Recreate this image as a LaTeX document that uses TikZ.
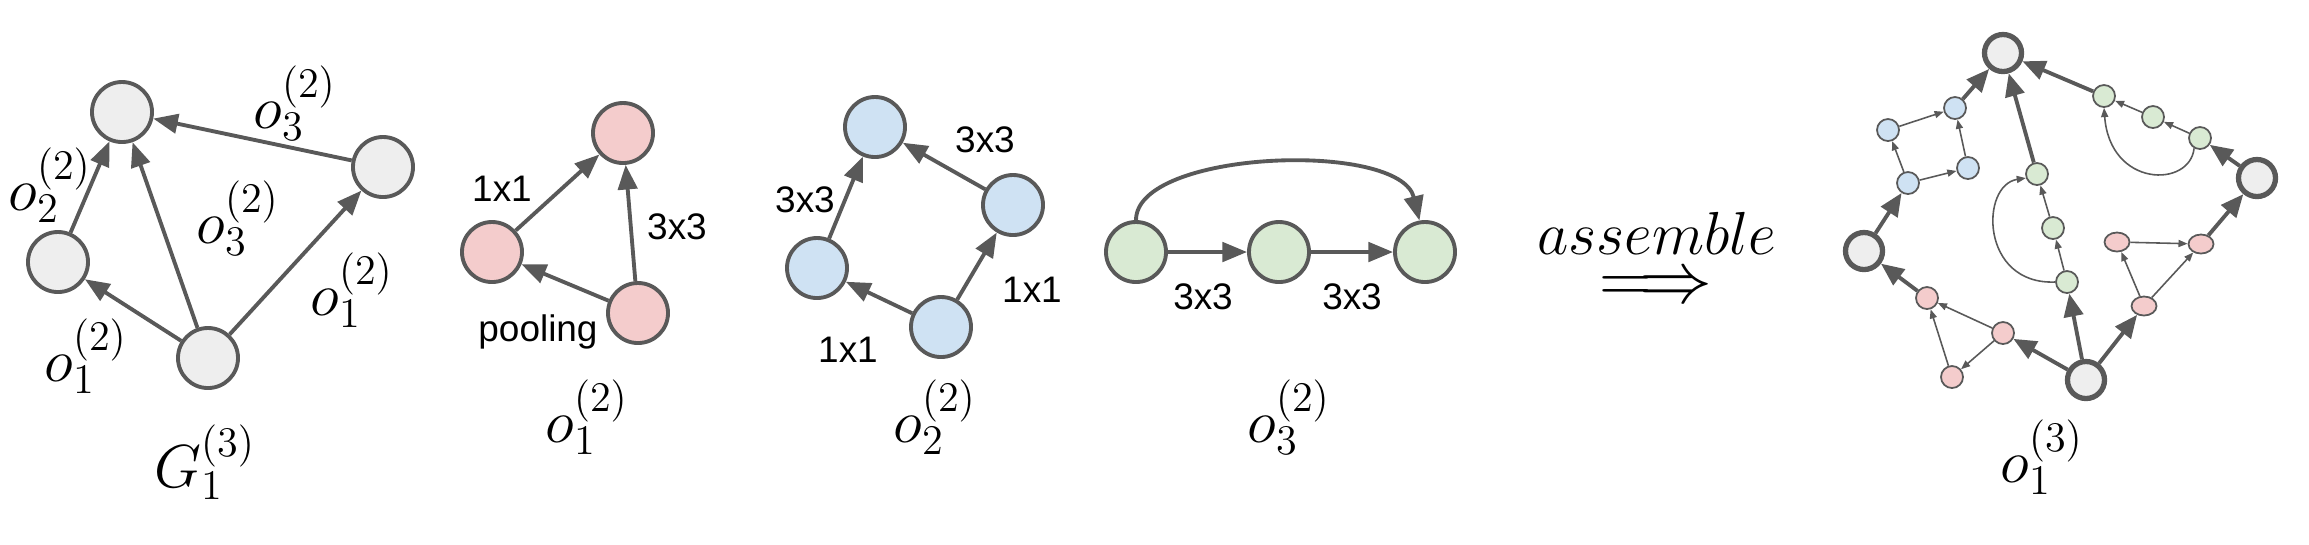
\documentclass[tikz,border=0pt]{standalone}
\usepackage{fontspec}
\newfontfamily\lblfont{Liberation Sans}
\usetikzlibrary{arrows.meta,positioning,shapes.geometric}
\definecolor{edgegray}{HTML}{595959}
\definecolor{nodegray}{HTML}{EEEEEE}
\definecolor{nodepink}{HTML}{F4CCCC}
\definecolor{nodeblue}{HTML}{CFE2F3}
\definecolor{nodegreen}{HTML}{D9EAD3}
\tikzset{
	opnode/.style={circle,draw=edgegray,line width=1.1pt,minimum size=0.6cm,inner sep=0pt},
	bignode/.style={circle,draw=edgegray,fill=nodegray,line width=1.5pt,minimum size=0.37cm,inner sep=0pt},
	smallnode/.style={circle,draw=edgegray,line width=0.5pt,minimum size=0.22cm,inner sep=0pt},
	smallell/.style={ellipse,draw=edgegray,fill=nodepink,line width=0.5pt,minimum width=0.25cm,minimum height=0.19cm,inner sep=0pt},
	opedge/.style={edgegray,line width=1.1pt,-{Triangle[length=7pt,width=5.5pt]}},
	bigedge/.style={edgegray,line width=1.1pt,-{Triangle[length=6.5pt,width=5.5pt]}},
	inedge/.style={edgegray,line width=0.45pt,-{Triangle[length=2.6pt,width=2pt]}},
	oplabel/.style={font=\lblfont\fontsize{10.5}{12}\selectfont,inner sep=0pt},
	mathlabel/.style={font=\LARGE,inner sep=0pt},
}

\begin{document}
\begin{tikzpicture}[x=0.01cm,y=-0.01cm]
	\useasboundingbox (0,0) rectangle (2309,544);
	% G_1^(3)
	\node (gA) at (122,112) [opnode,fill=nodegray] {};
	\node (gB) at (58,262) [opnode,fill=nodegray] {};
	\node (gC) at (208,358) [opnode,fill=nodegray] {};
	\node (gD) at (383,167) [opnode,fill=nodegray] {};
	\draw[opedge] (gB)--(gA);
	\draw[opedge] (gC)--(gB);
	\draw[opedge] (gC)--(gA);
	\draw[opedge] (gC)--(gD);
	\draw[opedge] (gD)--(gA);
	\node (lBA) at (50,185) [mathlabel] {$o_2^{(2)}$};
	\node (lDA) at (295,103) [mathlabel] {$o_3^{(2)}$};
	\node (lCA) at (238,218) [mathlabel] {$o_3^{(2)}$};
	\node (lCD) at (352,290) [mathlabel] {$o_1^{(2)}$};
	\node (lCB) at (86,356) [mathlabel] {$o_1^{(2)}$};
	\node (tG) at (205,462) [mathlabel] {$G_1^{(3)}$};
	% o_1^(2)
	\node (pA) at (623,133) [opnode,fill=nodepink] {};
	\node (pB) at (492,252) [opnode,fill=nodepink] {};
	\node (pC) at (638,313) [opnode,fill=nodepink] {};
	\draw[opedge] (pB)--(pA);
	\draw[opedge] (pC)--(pA);
	\draw[opedge] (pC)--(pB);
	\node (lpBA) at (502,189) [oplabel] {1x1};
	\node (lpCA) at (677,227) [oplabel] {3x3};
	\node (lpCB) at (538,332) [oplabel] {pooling};
	\node (tP) at (587,417) [mathlabel] {$o_1^{(2)}$};
	% o_2^(2)
	\node (bA) at (875,127) [opnode,fill=nodeblue] {};
	\node (bB) at (817,268) [opnode,fill=nodeblue] {};
	\node (bC) at (941,327) [opnode,fill=nodeblue] {};
	\node (bD) at (1013,205) [opnode,fill=nodeblue] {};
	\draw[opedge] (bB)--(bA);
	\draw[opedge] (bC)--(bB);
	\draw[opedge] (bC)--(bD);
	\draw[opedge] (bD)--(bA);
	\node (lbBA) at (805,200) [oplabel] {3x3};
	\node (lbDA) at (985,140) [oplabel] {3x3};
	\node (lbCD) at (1032,290) [oplabel] {1x1};
	\node (lbCB) at (848,350) [oplabel] {1x1};
	\node (tB) at (935,417) [mathlabel] {$o_2^{(2)}$};
	% o_3^(2)
	\node (cA) at (1136,252) [opnode,fill=nodegreen] {};
	\node (cB) at (1279,252) [opnode,fill=nodegreen] {};
	\node (cC) at (1425,252) [opnode,fill=nodegreen] {};
	\draw[opedge] (cA)--(cB);
	\draw[opedge] (cB)--(cC);
	\draw[opedge] (cA.north) .. controls (1136,150) and (1400,140) .. (cC.100);
	\node (lcAB) at (1203,297) [oplabel] {3x3};
	\node (lcBC) at (1352,297) [oplabel] {3x3};
	\node (tC) at (1289,417) [mathlabel] {$o_3^{(2)}$};
	% assemble
	\node (asm) at (1657,254) [anchor=base,inner sep=0pt,font=\LARGE] {$assemble$};
	\node (imp) at (1656,289) [inner sep=0pt,font=\huge] {$\Longrightarrow$};
	% o_1^(3)
	\node (tT) at (2003,53) [bignode] {};
	\node (tL) at (1864,251) [bignode] {};
	\node (tBo) at (2086,380) [bignode] {};
	\node (tR) at (2257,178) [bignode] {};
	\node (b1) at (1908,183) [smallnode,fill=nodeblue] {};
	\node (b2) at (1888,130) [smallnode,fill=nodeblue] {};
	\node (b3) at (1955,108) [smallnode,fill=nodeblue] {};
	\node (b4) at (1968,168) [smallnode,fill=nodeblue] {};
	\node (g1) at (2067,282) [smallnode,fill=nodegreen] {};
	\node (g2) at (2053,228) [smallnode,fill=nodegreen] {};
	\node (g3) at (2037,174) [smallnode,fill=nodegreen] {};
	\node (h1) at (2200,138) [smallnode,fill=nodegreen] {};
	\node (h2) at (2153,117) [smallnode,fill=nodegreen] {};
	\node (h3) at (2104,96) [smallnode,fill=nodegreen] {};
	\node (p1) at (2003,333) [smallnode,fill=nodepink] {};
	\node (p2) at (1952,377) [smallnode,fill=nodepink] {};
	\node (p3) at (1927,298) [smallnode,fill=nodepink] {};
	\node (q1) at (2144,306) [smallell] {};
	\node (q2) at (2117,242) [smallell] {};
	\node (q3) at (2201,244) [smallell] {};
	\draw[bigedge] (tL)--(b1);
	\draw[bigedge] (b3)--(tT);
	\draw[bigedge] (tBo)--(g1);
	\draw[bigedge] (g3)--(tT);
	\draw[bigedge] (tR)--(h1);
	\draw[bigedge] (h3)--(tT);
	\draw[bigedge] (tBo)--(p1);
	\draw[bigedge] (p3)--(tL);
	\draw[bigedge] (tBo)--(q1);
	\draw[bigedge] (q3)--(tR);
	\draw[inedge] (b1)--(b2);
	\draw[inedge] (b1)--(b4);
	\draw[inedge] (b2)--(b3);
	\draw[inedge] (b4)--(b3);
	\draw[inedge] (g1)--(g2);
	\draw[inedge] (g2)--(g3);
	\draw[inedge] (g1.west) .. controls (1980,285) and (1980,185) .. (g3.200);
	\draw[inedge] (h1)--(h2);
	\draw[inedge] (h2)--(h3);
	\draw[inedge] (h1.240) .. controls (2190,188) and (2110,188) .. (h3.south);
	\draw[inedge] (p1)--(p2);
	\draw[inedge] (p1)--(p3);
	\draw[inedge] (p2)--(p3);
	\draw[inedge] (q1)--(q2);
	\draw[inedge] (q1)--(q3);
	\draw[inedge] (q2)--(q3);
	\node (tO) at (2042,457) [mathlabel] {$o_1^{(3)}$};
\end{tikzpicture}
\end{document}
